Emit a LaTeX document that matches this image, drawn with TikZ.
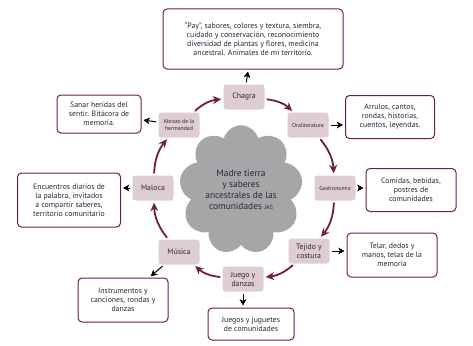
\documentclass[tikz,border=0pt]{standalone}
\usepackage{fontspec}
\setmainfont{PT Sans}
\usetikzlibrary{positioning,arrows.meta,shapes.symbols}
\definecolor{vino}{RGB}{112,28,72}
\definecolor{rosa}{RGB}{222,205,210}
\definecolor{nube}{RGB}{165,166,168}
\definecolor{tinta}{RGB}{45,38,55}
\begin{document}
\begin{tikzpicture}[x=1pt, y=-1pt, font=\fontsize{7.8}{9}\selectfont, text=tinta, tema/.style={fill=rosa, rounded corners=3pt, align=center, minimum height=25pt, minimum width=41pt, inner sep=1pt}, chico/.style={font=\fontsize{5.8}{7}\selectfont}, caja/.style={draw=vino, line width=1pt, fill=white, rounded corners=4pt, align=center, inner sep=2pt}, ciclo/.style={-{Stealth[length=3mm, width=2.8mm]}, vino, line width=1.8pt, bend left=18, shorten <=2pt, shorten >=2pt}, sale/.style={-{Stealth[length=2.2mm, width=2.4mm, inset=0.6mm]}, black, line width=1pt, shorten <=2pt, shorten >=2pt}]
\useasboundingbox (0,0) rectangle (473,345);
\node[cloud, cloud puffs=9, aspect=0.92, fill=nube, align=center, minimum width=113pt, minimum height=122pt, inner sep=0pt, font=\fontsize{9.4}{11}\selectfont] (madre) at (241,190) {Madre tierra\\y saberes\\ancestrales de las\\comunidades {\fontsize{6}{7}\selectfont JAS}};
% temas del ciclo
\node[tema] (ch) at (244,97) {Chagra};
\node[tema, chico] (ol) at (308,125) {Oraliteratura};
\node[tema, chico] (ga) at (335,188) {Gastronomía};
\node[tema] (te) at (309,251) {Tejido y\\costura};
\node[tema] (jd) at (243,279) {Juego y\\danzas};
\node[tema] (mu) at (179,252) {Música};
\node[tema] (ma) at (153,188) {Maloca};
\node[tema, chico] (ab) at (179,125) {Abrazo de la\\hermandad};
% cajas de texto
\node[caja, minimum width=180pt, minimum height=60pt] (t1) at (253,39) {``Pay'', sabores, colores y textura, siembra,\\cuidado y conservación, reconocimiento\\diversidad de plantas y flores, medicina\\ancestral. Animales de mi territorio.};
\node[caja, minimum width=89pt, minimum height=43pt] (t2) at (390,117) {Arrulos, cantos,\\rondas, historias,\\cuentos, leyendas.};
\node[caja, minimum width=90pt, minimum height=43pt] (t3) at (411,190) {Comidas, bebidas,\\postres de\\comunidades};
\node[caja, minimum width=90pt, minimum height=44pt] (t4) at (392,255) {Telar, dedos y\\manos, telas de la\\memoria};
\node[caja, minimum width=86pt, minimum height=32pt] (t5) at (251,324) {Juegos y juguetes\\de comunidades};
\node[caja, minimum width=90pt, minimum height=44pt] (t6) at (123,300) {Instrumentos y\\canciones, rondas y\\danzas};
\node[caja, minimum width=103pt, minimum height=54pt] (t7) at (69,200) {Encuentros diarios de\\la palabra, invitados\\a compartir saberes,\\territorio comunitario};
\node[caja, minimum width=84pt, minimum height=38pt] (t8) at (99,114) {Sanar heridas del\\sentir. Bitácora de\\memoria.};
% ciclo
\draw[ciclo] (ab) to (ch); \draw[ciclo] (ch) to (ol); \draw[ciclo] (ol) to (ga); \draw[ciclo] (ga) to (te);
\draw[ciclo] (te) to (jd); \draw[ciclo] (jd) to (mu); \draw[ciclo] (mu) to (ma); \draw[ciclo] (ma) to (ab);
% salidas
\draw[sale] (ch) -- (t1); \draw[sale] (ol) -- (ol -| t2.west); \draw[sale] (ga.east) -- (t3.west |- ga.east);
\draw[sale] (te) -- (te -| t4.west); \draw[sale] (jd) -- (jd |- t5.north); \draw[sale] (mu) -- (t6);
\draw[sale] (ma) -- (ma -| t7.east); \draw[sale] (ab) -- (t8);
\end{tikzpicture}
\end{document}
